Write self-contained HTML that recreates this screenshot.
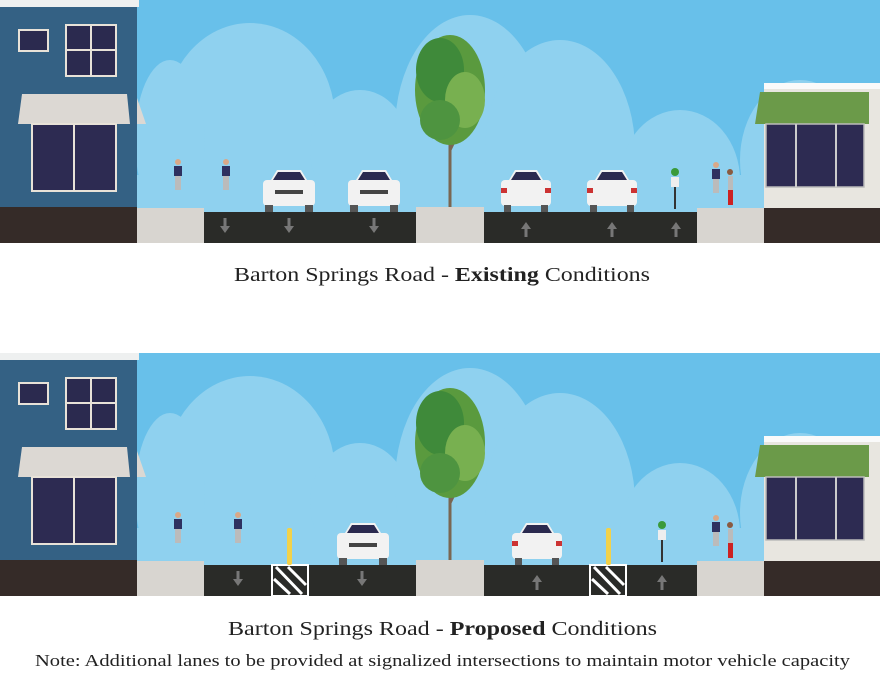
<!DOCTYPE html>
<html><head><meta charset="utf-8"><style>html,body{margin:0;padding:0;background:#fff}svg{display:block}</style></head>
<body>
<svg width="880" height="683" viewBox="0 0 880 683" xmlns="http://www.w3.org/2000/svg">
<defs>
<clipPath id="skyclip"><rect x="0" y="0" width="880" height="212"/></clipPath>
<g id="sky">
  <rect x="0" y="0" width="880" height="212" fill="#68c0ea"/>
  <g clip-path="url(#skyclip)" fill="#8fd1ef">
  <ellipse cx="250" cy="120" rx="85" ry="97" />
  <ellipse cx="170" cy="140" rx="35" ry="80" />
  <ellipse cx="360" cy="150" rx="50" ry="60" />
  <ellipse cx="470" cy="130" rx="75" ry="115" />
  <ellipse cx="560" cy="150" rx="75" ry="110" />
  <ellipse cx="680" cy="180" rx="60" ry="70" />
  <ellipse cx="800" cy="160" rx="60" ry="80" />
  <rect x="137" y="175" width="627" height="37" />
  </g>
</g>
<g id="lbld">
  <rect x="0" y="0" width="139" height="7" fill="#eef0f0"/>
  <rect x="0" y="7" width="137" height="200" fill="#346184"/>
  <rect x="19" y="30" width="29" height="21" fill="#2b2a4f" stroke="#e8e2d8" stroke-width="2"/>
  <rect x="66" y="25" width="50" height="51" fill="#2b2a4f" stroke="#e8e2d8" stroke-width="2"/>
  <line x1="91" y1="25" x2="91" y2="76" stroke="#e8e2d8" stroke-width="2"/>
  <line x1="66" y1="50" x2="116" y2="50" stroke="#e8e2d8" stroke-width="2"/>
  <polygon points="22,94 127,94 130,124 18,124" fill="#dcd8d3"/>
  <polygon points="137,98 146,124 137,124" fill="#dcd8d3"/>
  <rect x="32" y="124" width="84" height="67" fill="#2d2b52" stroke="#e8e2d8" stroke-width="2"/>
  <line x1="74" y1="124" x2="74" y2="191" stroke="#e8e2d8" stroke-width="2"/>
  <rect x="0" y="207" width="137" height="36" fill="#352b28"/>
</g>
<g id="rbld">
  <rect x="764" y="84" width="116" height="124" fill="#e8e6e0"/>
  <rect x="764" y="83" width="116" height="6" fill="#fafafa"/>
  <polygon points="760,92 869,92 869,124 755,124" fill="#6b9a49"/>
  <rect x="766" y="124" width="98" height="63" fill="#2d2b52" stroke="#bbb" stroke-width="1.5"/>
  <line x1="796" y1="124" x2="796" y2="187" stroke="#ccc" stroke-width="2"/>
  <line x1="836" y1="124" x2="836" y2="187" stroke="#ccc" stroke-width="2"/>
  <rect x="764" y="208" width="116" height="35" fill="#352b28"/>
</g>
<g id="tree">
  <path d="M450 207 L450 140 L436 122 M450 150 L462 125" stroke="#7a6652" stroke-width="3" fill="none"/>
  <ellipse cx="450" cy="90" rx="35" ry="55" fill="#5a9a3e"/>
  <ellipse cx="440" cy="70" rx="24" ry="32" fill="#3f8a3a"/>
  <ellipse cx="465" cy="100" rx="20" ry="28" fill="#78b050"/>
  <ellipse cx="440" cy="120" rx="20" ry="20" fill="#4e9440"/>
</g>
<g id="carF">
  <rect x="0" y="12" width="52" height="26" rx="4" fill="#f2f2f2"/>
  <path d="M8 12 L14 2 L38 2 L44 12 Z" fill="#f2f2f2"/>
  <path d="M10 12 L15 4 L37 4 L42 12 Z" fill="#2b2a4f"/>
  <rect x="12" y="22" width="28" height="4" fill="#444"/>
  <rect x="2" y="37" width="8" height="7" fill="#555"/><rect x="42" y="37" width="8" height="7" fill="#555"/>
</g>
<g id="carR">
  <rect x="0" y="12" width="50" height="26" rx="4" fill="#f2f2f2"/>
  <path d="M8 12 L14 2 L36 2 L42 12 Z" fill="#f2f2f2"/>
  <path d="M10 12 L15 4 L35 4 L40 12 Z" fill="#2b2a4f"/>
  <rect x="0" y="20" width="6" height="5" fill="#c33"/><rect x="44" y="20" width="6" height="5" fill="#c33"/>
  <rect x="3" y="37" width="7" height="7" fill="#555"/><rect x="40" y="37" width="7" height="7" fill="#555"/>
</g>
<g id="down"><rect x="-1.5" y="-8" width="3" height="9" fill="#777"/><polygon points="-5,0 5,0 0,7" fill="#777"/></g>
<g id="up"><rect x="-1.5" y="-1" width="3" height="9" fill="#777"/><polygon points="-5,0 5,0 0,-7" fill="#777"/></g>
<g id="ped">
  <circle cx="0" cy="0" r="3" fill="#d9a888"/>
  <rect x="-4" y="4" width="8" height="10" fill="#2e3160"/>
  <rect x="-3" y="14" width="6" height="14" fill="#bbb"/>
</g>
<g id="hatch">
  <rect x="0" y="0" width="36" height="31" fill="#2a2b28"/>
  <rect x="0" y="0" width="36" height="31" fill="none" stroke="#fff" stroke-width="2"/>
  <path d="M4 2 L30 29 M16 2 L34 20 M2 14 L18 29" stroke="#fff" stroke-width="3"/>
</g>
<g id="base">
  <use href="#sky"/>
  <use href="#lbld"/>
  <use href="#rbld"/>
  <rect x="137" y="208" width="67" height="35" fill="#d8d5d0"/>
  <rect x="204" y="212" width="212" height="31" fill="#2a2b28"/>
  <rect x="416" y="207" width="68" height="36" fill="#d8d5d0"/>
  <rect x="484" y="212" width="213" height="31" fill="#2a2b28"/>
  <rect x="697" y="208" width="67" height="35" fill="#d8d5d0"/>
  <use href="#tree"/>
  <use href="#ped" x="178" y="162"/>
  <use href="#ped" x="716" y="165"/>
  <rect x="728" y="176" width="5" height="14" fill="#bbb"/><circle cx="730" cy="172" r="3" fill="#8a5a40"/><rect x="728" y="190" width="5" height="15" fill="#c22"/>
</g>
</defs>

<use href="#base"/>
<use href="#ped" x="226" y="162"/>
<use href="#carF" x="263" y="168"/>
<use href="#carF" x="348" y="168"/>
<use href="#carR" x="501" y="168"/>
<use href="#carR" x="587" y="168"/>
<circle cx="675" cy="172" r="4" fill="#3a9a3a"/><rect x="671" y="177" width="8" height="10" fill="#eee"/><rect x="674" y="187" width="2" height="22" fill="#333"/>
<use href="#down" x="225" y="226"/>
<use href="#down" x="289" y="226"/>
<use href="#down" x="374" y="226"/>
<use href="#up" x="526" y="229"/>
<use href="#up" x="612" y="229"/>
<use href="#up" x="676" y="229"/>

<g transform="translate(0,353)">
<use href="#base"/>
<use href="#ped" x="238" y="162"/>
<use href="#hatch" x="272" y="212"/>
<use href="#hatch" x="590" y="212"/>
<rect x="287" y="175" width="5" height="37" rx="2" fill="#f2d24a"/>
<rect x="606" y="175" width="5" height="37" rx="2" fill="#f2d24a"/>
<use href="#carF" x="337" y="168"/>
<use href="#carR" x="512" y="168"/>
<circle cx="662" cy="172" r="4" fill="#3a9a3a"/><rect x="658" y="177" width="8" height="10" fill="#eee"/><rect x="661" y="187" width="2" height="22" fill="#333"/>
<use href="#down" x="238" y="226"/>
<use href="#down" x="362" y="226"/>
<use href="#up" x="537" y="229"/>
<use href="#up" x="662" y="229"/>
</g>

<g font-family="'Liberation Serif', serif" fill="#222">
<text x="234" y="281" font-size="20" textLength="416" lengthAdjust="spacingAndGlyphs">Barton Springs Road - <tspan font-weight="bold">Existing</tspan> Conditions</text>
<text x="228" y="635" font-size="20" textLength="429" lengthAdjust="spacingAndGlyphs">Barton Springs Road - <tspan font-weight="bold">Proposed</tspan> Conditions</text>
<text x="35" y="666" font-size="17" textLength="815" lengthAdjust="spacingAndGlyphs">Note: Additional lanes to be provided at signalized intersections to maintain motor vehicle capacity</text>
</g>
</svg>
</body></html>
